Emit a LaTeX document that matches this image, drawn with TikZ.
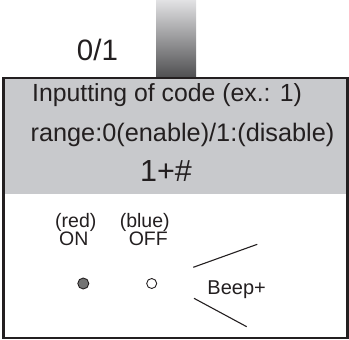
\documentclass[tikz,border=0pt]{standalone}
\usepackage{fontspec}
\setmainfont{Liberation Sans}
\usepackage{tikz}
\definecolor{ink}{HTML}{231F20}
\definecolor{panel}{HTML}{C8C9CC}
\definecolor{bartop}{HTML}{E2E2E4}
\definecolor{barbot}{HTML}{505052}

\begin{document}
\begin{tikzpicture}[x=1pt, y=-1pt,
        txt/.style={anchor=base, inner sep=0pt, text=ink},
        led/.style={circle, draw=ink, line width=0.9pt, inner sep=0pt}]
                \useasboundingbox (0,0) rectangle (349,340);
                % plug on top and the panel
                \shade[top color=bartop, bottom color=barbot] (156,0) rectangle (196,77);
                \fill[panel] (3.5,78) rectangle (347.5,193.5);
                \draw[ink, line width=2.6pt] (3.5,78) rectangle (347.5,338);
                \node[txt, font=\fontsize{29.5}{30}\selectfont] (state) at (97.5,60) {0/1};
                \node[txt, font=\fontsize{24.8}{26}\selectfont] (title) at (167,102) {Inputting of code (ex.: 1)};
                \node[txt, font=\fontsize{25.3}{28}\selectfont] (range) at (182.5,142) {range:0(enable)/1:(disable)};
                \node[txt, font=\fontsize{30.5}{32}\selectfont] (code) at (166,181.7) {1+\#};
                % lamps
                \node[txt, font=\fontsize{19.5}{20}\selectfont] (red) at (75.8,227) {(red)};
                \node[txt, font=\fontsize{19.5}{20}\selectfont] (on) at (73.8,245.7) {ON};
                \node[txt, font=\fontsize{19.5}{20}\selectfont] (blue) at (144.7,227) {(blue)};
                \node[txt, font=\fontsize{19.5}{20}\selectfont] (off) at (148.3,245.7) {OFF};
                \node[led, fill=black!55, minimum size=11pt] (ledon) at (83.3,283.5) {};
                \node[led, fill=white, minimum size=10pt] (ledoff) at (151.7,283.5) {};
                % buzzer
                \node[txt, font=\fontsize{20}{22}\selectfont, anchor=base west] (beep) at (207.3,294) {Beep+};
                \coordinate (u1) at (193.3,267.3); \coordinate (u2) at (257.3,244.3);
                \coordinate (l1) at (194,298.3); \coordinate (l2) at (246.7,326.7);
                \draw[ink, line width=1.1pt] (u1) -- (u2);
                \draw[ink, line width=1.1pt] (l1) -- (l2);
\end{tikzpicture}
\end{document}
